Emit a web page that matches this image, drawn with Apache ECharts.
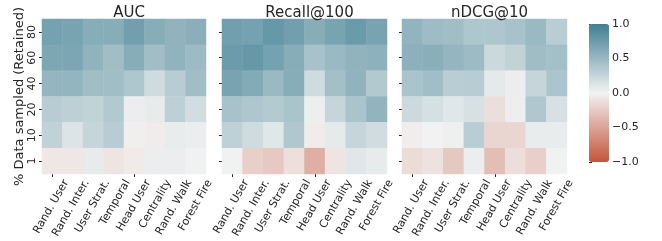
<!DOCTYPE html>
<html>
<head>
<meta charset="utf-8">
<script src="https://cdn.jsdelivr.net/npm/echarts@6/dist/echarts.min.js"></script>
<style>
  html, body { margin: 0; padding: 0; background: #fff; }
  #chart { width: 662px; height: 241px; }
</style>
</head>
<body>
<div id="chart"></div>
<script>
// 列（采样方法）
const methods = ['Rand. User', 'Rand. Inter.', 'User Strat.', 'Temporal', 'Head User', 'Centrality', 'Rand. Walk', 'Forest Fire']
// 行（保留比例），自下而上
const ratios = ['1', '10', '20', '40', '60', '80']
const panelTitles = ['AUC', 'Recall@100', 'nDCG@10']

// 每个面板的数值，按图中自上而下（80 -> 1）排列
const auc = [
  [0.70, 0.68, 0.60, 0.60, 0.72, 0.60, 0.55, 0.58],
  [0.65, 0.66, 0.55, 0.45, 0.60, 0.45, 0.55, 0.48],
  [0.52, 0.53, 0.45, 0.45, 0.38, 0.20, 0.33, 0.45],
  [0.33, 0.30, 0.27, 0.36, 0.04, 0.06, 0.30, 0.18],
  [0.28, 0.12, 0.25, 0.33, -0.02, -0.04, 0.05, 0.04],
  [-0.07, -0.07, 0.06, -0.09, -0.05, 0.04, 0.04, 0.01]
]
const recall = [
  [0.72, 0.70, 0.78, 0.72, 0.60, 0.68, 0.76, 0.68],
  [0.75, 0.78, 0.70, 0.60, 0.42, 0.50, 0.55, 0.56],
  [0.68, 0.62, 0.50, 0.60, 0.20, 0.44, 0.55, 0.36],
  [0.42, 0.38, 0.35, 0.40, 0.03, 0.25, 0.40, 0.54],
  [0.29, 0.20, 0.10, 0.37, -0.04, 0.07, 0.25, 0.19],
  [0.01, -0.22, -0.26, -0.12, -0.42, -0.09, 0.10, 0.06]
]
const ndcg = [
  [0.54, 0.47, 0.45, 0.38, 0.38, 0.42, 0.50, 0.32],
  [0.57, 0.58, 0.52, 0.48, 0.22, 0.27, 0.46, 0.44],
  [0.40, 0.45, 0.32, 0.33, 0.08, 0.04, 0.25, 0.39],
  [0.21, 0.16, 0.10, 0.15, -0.13, 0.03, 0.37, 0.15],
  [-0.03, 0.00, 0.02, 0.32, -0.18, -0.18, 0.05, 0.05],
  [-0.14, -0.10, -0.27, 0.04, -0.33, -0.13, -0.22, 0.01]
]
const panels = [auc, recall, ndcg]

const gridLefts = [42, 222, 402]
const gridWidths = [164, 165, 165]
const FONT = 'DejaVu Sans'
const TEXT = '#262626'
// matplotlib 的旋转标签是居中于刻度的，这里用右移的辅助坐标系来模拟
const LABEL_SHIFT_PX = 14

// 转成 heatmap 数据 [x, y, value]
const toHeat = (rows) => {
  const out = []
  rows.forEach((row, r) => {
    const y = rows.length - 1 - r
    row.forEach((v, x) => out.push([x, y, v]))
  })
  return out
}

const chart = echarts.init(document.getElementById('chart'), null, { renderer: 'canvas' })

// 0-2 热力图，3 色条，4-6 x 轴文字
const grids = gridLefts.map((left, i) => ({ left, top: 19, width: gridWidths[i], height: 155 }))
grids.push({ left: 589, top: 24, width: 20, height: 138 })
gridLefts.forEach((left, i) => {
  grids.push({ left: left + LABEL_SHIFT_PX, top: 19, width: gridWidths[i], height: 155 })
})

const xAxes = panels.map((_, i) => ({
  type: 'category',
  gridIndex: i,
  data: methods,
  axisLine: { show: false },
  axisTick: { show: true, alignWithLabel: true, length: 3, lineStyle: { color: TEXT } },
  axisLabel: { show: false },
  splitLine: { show: false }
}))
xAxes.push({ type: 'value', gridIndex: 3, show: false })
panels.forEach((_, i) => {
  xAxes.push({
    type: 'category',
    gridIndex: 4 + i,
    data: methods,
    axisLine: { show: false },
    axisTick: { show: false },
    splitLine: { show: false },
    axisLabel: { rotate: 60, interval: 0, fontSize: 11, fontFamily: FONT, color: TEXT, margin: 8 }
  })
})

const yAxes = panels.map((_, i) => ({
  type: 'category',
  gridIndex: i,
  data: ratios,
  name: i === 0 ? '% Data sampled (Retained)' : '',
  nameLocation: 'middle',
  nameGap: 16,
  nameTextStyle: { fontSize: 13, fontFamily: FONT, color: TEXT },
  axisLine: { show: false },
  axisTick: { show: true, alignWithLabel: true, length: 3, lineStyle: { color: TEXT } },
  axisLabel: { show: i === 0, rotate: 90, fontSize: 11, fontFamily: FONT, color: TEXT, margin: 4 },
  splitLine: { show: false }
}))
// 色条刻度
yAxes.push({
  type: 'value',
  gridIndex: 3,
  position: 'right',
  min: -1,
  max: 1,
  interval: 0.5,
  axisLine: { show: false },
  axisTick: { show: true, length: 3, lineStyle: { color: TEXT } },
  axisLabel: {
    fontSize: 11,
    fontFamily: FONT,
    color: TEXT,
    margin: 3,
    formatter: (v) => (v < 0 ? '\u2212' : '') + Math.abs(v).toFixed(1)
  },
  splitLine: { show: false }
})
panels.forEach((_, i) => {
  yAxes.push({ type: 'value', gridIndex: 4 + i, show: false })
})

const option = {
  animation: false,
  backgroundColor: '#fff',
  title: panelTitles.map((t, i) => ({
    text: t,
    left: gridLefts[i] + gridWidths[i] / 2,
    top: 1,
    textAlign: 'center',
    textStyle: { fontSize: 15, fontWeight: 'normal', fontFamily: FONT, color: TEXT }
  })),
  grid: grids,
  xAxis: xAxes,
  yAxis: yAxes,
  visualMap: {
    type: 'continuous',
    min: -1,
    max: 1,
    seriesIndex: [0, 1, 2],
    left: 589,
    top: 24,
    itemWidth: 20,
    itemHeight: 138,
    padding: 0,
    calculable: false,
    hoverLink: false,
    text: ['', ''],
    inRange: { color: ['#c3553a', '#f2f2f2', '#3f7f93'] }
  },
  series: panels.map((rows, i) => ({
    type: 'heatmap',
    xAxisIndex: i,
    yAxisIndex: i,
    data: toHeat(rows),
    itemStyle: { borderWidth: 0 },
    emphasis: { disabled: true }
  }))
}

chart.setOption(option)
</script>
</body>
</html>
